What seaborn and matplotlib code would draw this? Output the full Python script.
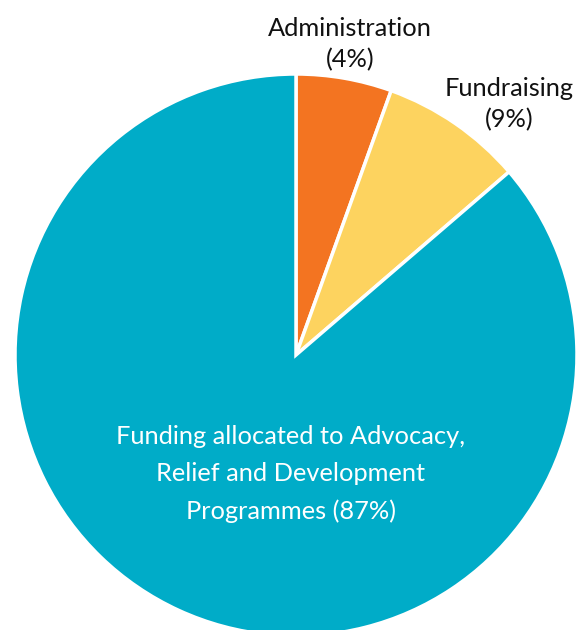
import matplotlib
matplotlib.use("Agg")
import matplotlib.pyplot as plt
import seaborn as sns

# Data
categories = ["Administration", "Fundraising",
              "Funding allocated to Advocacy,\nRelief and Development\nProgrammes"]
label_pcts = [4, 9, 87]
slice_sizes = [5.5, 8.2, 86.3]   # as drawn in the reference
colors = ["#F37421", "#FDD35F", "#00ACC8"]

sns.set_theme(style="white")
plt.rcParams["font.family"] = ["Lato", "DejaVu Sans"]

W, H = 576, 630
fig = plt.figure(figsize=(W / 100, H / 100), dpi=100)
ax = fig.add_axes([0, 0, 1, 1])

ax.pie(slice_sizes, colors=colors, startangle=90, counterclock=False,
       radius=1.0, wedgeprops=dict(edgecolor="white", linewidth=2.5))

cx, cy, r = 296, 355, 281
ax.set_xlim(-cx / r, (W - cx) / r)
ax.set_ylim(-(H - cy) / r, cy / r)
ax.set_aspect("auto")
ax.axis("off")

def px(x, y):
    return x / W, 1 - y / H

fs = 18.3
fig.text(*px(350, 28), categories[0], ha="center", va="center", fontsize=fs, color="#111111")
fig.text(*px(350, 60), f"({label_pcts[0]}%)", ha="center", va="center", fontsize=fs, color="#111111")
fig.text(*px(509, 88), categories[1], ha="center", va="center", fontsize=fs, color="#111111")
fig.text(*px(509, 120), f"({label_pcts[1]}%)", ha="center", va="center", fontsize=fs, color="#111111")

main_lines = categories[2].split("\n")
main_lines[-1] = main_lines[-1] + f" ({label_pcts[2]}%)"
for i, line in enumerate(main_lines):
    fig.text(*px(291, 436 + 37.5 * i), line, ha="center", va="center",
             fontsize=fs, color="white")

fig.savefig("out.png", dpi=100)
